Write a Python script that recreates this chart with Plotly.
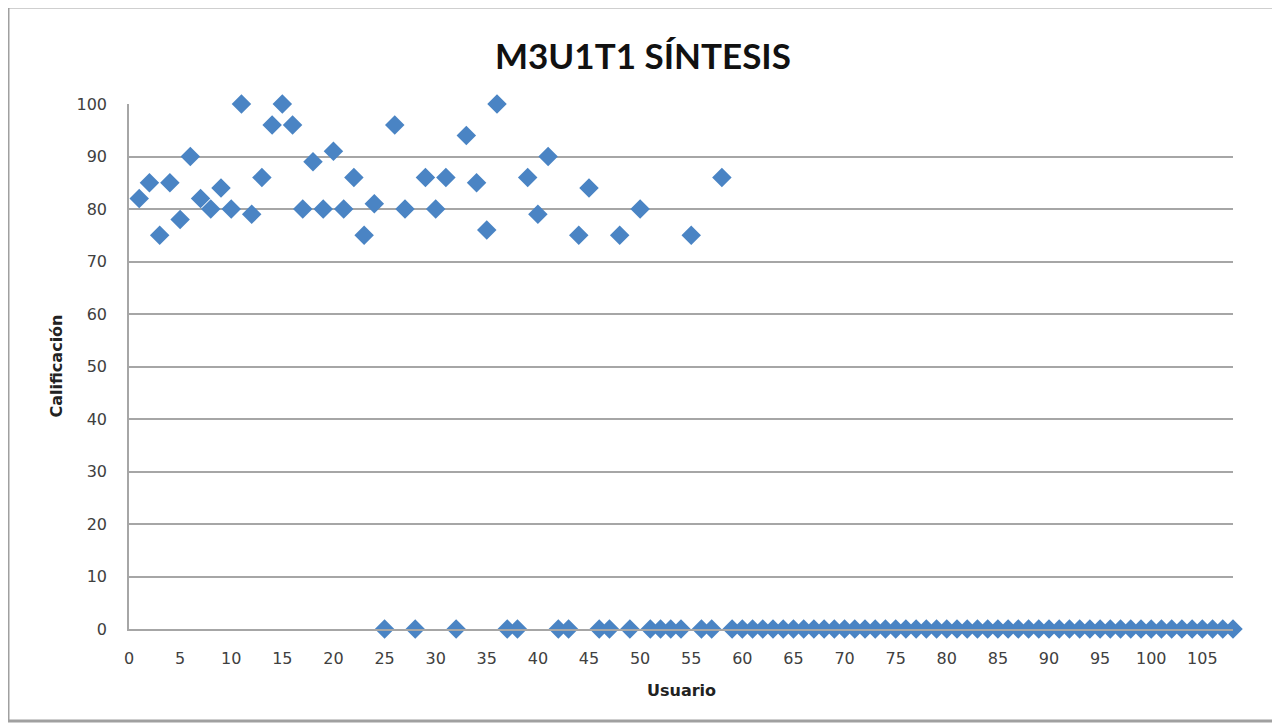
import plotly.graph_objects as go

usuarios = list(range(1, 109))
calif_1_58 = [82, 85, 75, 85, 78, 90, 82, 80, 84, 80,
              100, 79, 86, 96, 100, 96, 80, 89, 80, 91,
              80, 86, 75, 81, 0, 96, 80, 0, 86, 80,
              86, 0, 94, 85, 76, 100, 0, 0, 86, 79,
              90, 0, 0, 75, 84, 0, 0, 75, 0, 80,
              0, 0, 0, 0, 75, 0, 0, 86]
calif_59_108 = [0] * 50
calificacion = calif_1_58 + calif_59_108

x_ticks = list(range(0, 106, 5))
y_ticks = list(range(0, 101, 10))

# page body has an 8px default margin; work in screen pixels and shift
OFF = 8
W, H = 1280 - OFF, 726 - OFF
L, R, T, B = 129, 1233, 104, 629
pw, ph = R - L, B - T

def px(xp):
    return (xp - L) / pw

def py(yp):
    return (B - yp) / ph

fig = go.Figure()
fig.add_trace(go.Scatter(
    x=usuarios, y=calificacion, mode="markers",
    marker=dict(symbol="diamond", size=15, color="#4a84c4",
                line=dict(width=0)),
    cliponaxis=False, showlegend=False,
))

tick_font = dict(family="DejaVu Sans, Open Sans, sans-serif", size=16, color="#404040")
fig.update_layout(
    width=W, height=H,
    margin=dict(l=L - OFF, r=(1280 - R), t=T - OFF, b=(726 - B)),
    paper_bgcolor="white", plot_bgcolor="white",
    xaxis=dict(range=[0, 108], tickvals=x_ticks, ticktext=[str(v) for v in x_ticks],
               showgrid=False, zeroline=False, showline=True, linecolor="#a6a6a6",
               linewidth=1.5, ticks="", tickfont=tick_font, ticklabelstandoff=14),
    yaxis=dict(range=[0, 100], tickvals=y_ticks, showgrid=True, gridcolor="#a6a6a6",
               gridwidth=1.5, zeroline=False, showline=True, linecolor="#a6a6a6",
               linewidth=1.5, ticks="", tickfont=tick_font, ticklabelstandoff=17),
    shapes=[dict(type="rect", xref="paper", yref="paper",
                 x0=px(8), x1=px(1276), y0=py(721), y1=py(7),
                 line=dict(color="#a0a0a0", width=3), layer="above")],
    annotations=[
        dict(text="<b>M3U1T1 SÍNTESIS</b>", xref="paper", yref="paper",
             x=px(643), y=py(55), showarrow=False, xanchor="center", yanchor="middle",
             font=dict(family="Liberation Sans Narrow, Lato, sans-serif", size=35, color="#111111")),
        dict(text="<b>Usuario</b>", xref="paper", yref="paper",
             x=0.5, y=py(690), showarrow=False, xanchor="center", yanchor="middle",
             font=dict(family="DejaVu Sans, sans-serif", size=16, color="#222222")),
        dict(text="<b>Calificación</b>", xref="paper", yref="paper",
             x=px(56), y=0.5, showarrow=False, textangle=-90, xanchor="center", yanchor="middle",
             font=dict(family="DejaVu Sans, sans-serif", size=16, color="#222222")),
    ],
)
fig.write_html("out.html")
